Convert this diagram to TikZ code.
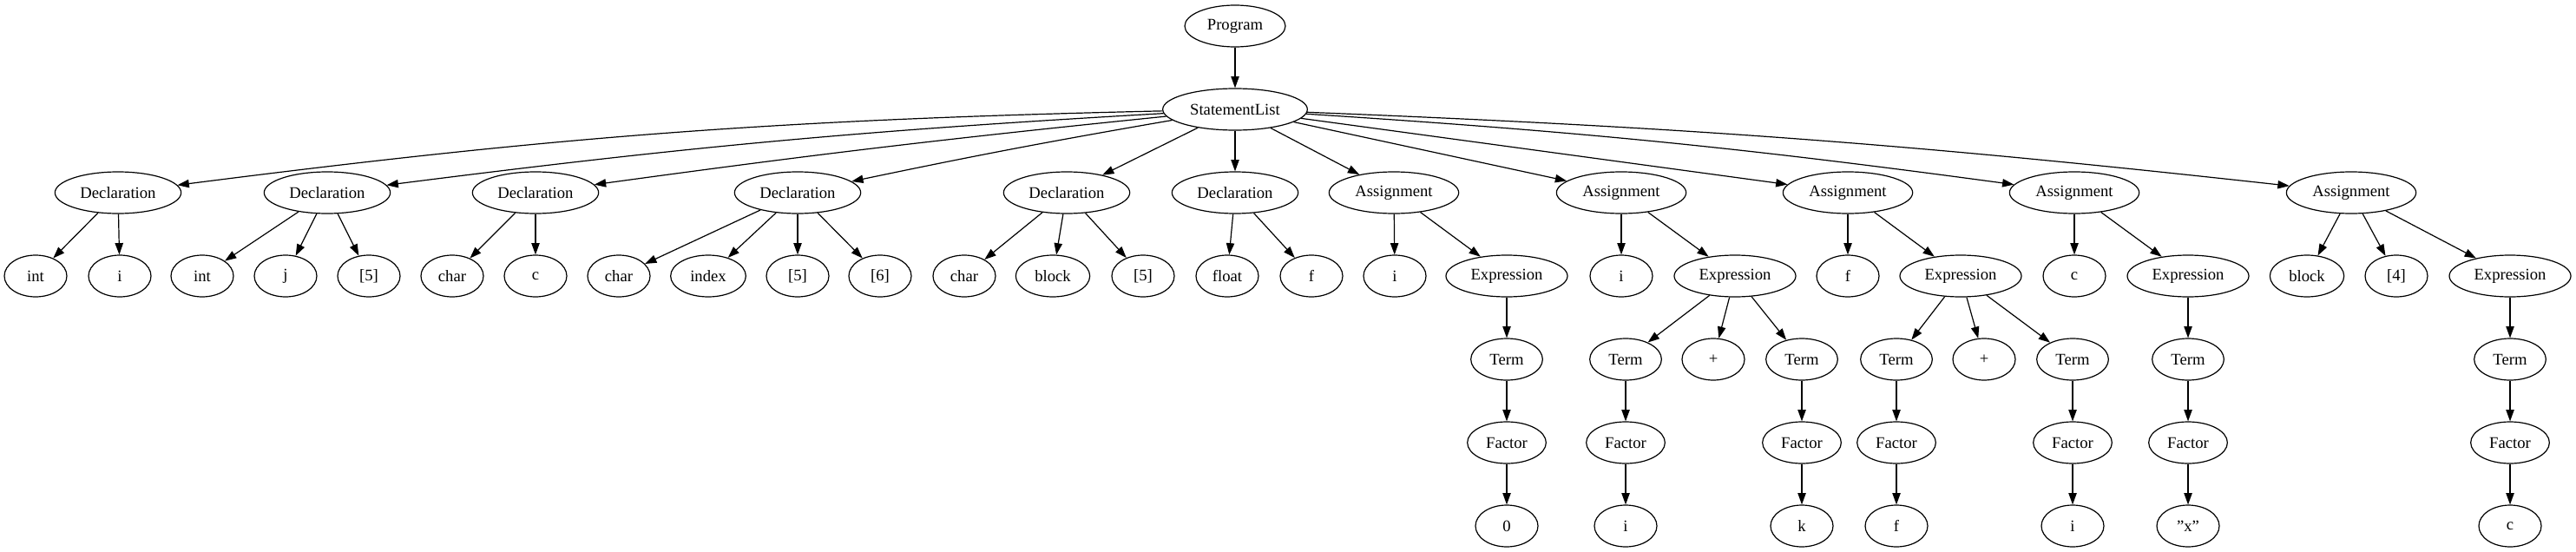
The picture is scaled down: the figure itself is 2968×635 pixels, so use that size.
\documentclass[tikz,border=0pt]{standalone}
\usepackage{fontspec}
\setmainfont{Liberation Serif}
\usetikzlibrary{shapes.geometric,arrows.meta}

\begin{document}
\begin{tikzpicture}[x=0.75pt,y=-0.75pt,node distance=72pt,
  >={Triangle[length=10pt,width=7pt]},line width=0.9pt,
  sym/.style={ellipse,draw,inner sep=0pt,minimum width=54pt,minimum height=36pt,
    font=\fontsize{14}{16}\selectfont},
  decl/.style={sym,minimum width=109pt},
  asgn/.style={sym,minimum width=112pt},
  expr/.style={sym,minimum width=105pt},
  term/.style={sym,minimum width=62pt},
  fact/.style={sym,minimum width=68pt}]
\useasboundingbox (0,0) rectangle (2968,635);

\node[sym,minimum width=87pt]	(prog)	at (1423,30)		{Program};
\node[sym,minimum width=125pt]	(stl)	[below of=prog]		{StatementList};

% statements
\node[decl]	(d_1)	at (136,222)	{Declaration};
\node[decl]	(d_2)	at (377,222)	{Declaration};
\node[decl]	(d_3)	at (617,222)	{Declaration};
\node[decl]	(d_4)	at (919,222)	{Declaration};
\node[decl]	(d_5)	at (1229,222)	{Declaration};
\node[decl]	(d_6)	at (1423,222)	{Declaration};
\node[asgn]	(a_1)	at (1606,222)	{Assignment};
\node[asgn]	(a_2)	at (1868,222)	{Assignment};
\node[asgn]	(a_3)	at (2129,222)	{Assignment};
\node[asgn]	(a_4)	at (2390,222)	{Assignment};
\node[asgn]	(a_5)	at (2709,222)	{Assignment};

% declaration parts
\node[sym]	(ty_1)	at (41,318)	{int};
\node[sym]	(id_1)	at (138,318)	{i};
\node[sym]	(ty_2)	at (233,318)	{int};
\node[sym]	(id_2)	at (329,318)	{j};
\node[sym]	(sz_2)	at (425,318)	{[5]};
\node[sym]	(ty_3)	at (521,318)	{char};
\node[sym]	(id_3)	at (617,318)	{c};
\node[sym]	(ty_4)	at (713,318)	{char};
\node[sym,minimum width=65pt]	(id_4)	at (816,318)	{index};
\node[sym]	(sz_4)	at (919,318)	{[5]};
\node[sym]	(sz_4b)	at (1014,318)	{[6]};
\node[sym]	(ty_5)	at (1111,318)	{char};
\node[sym,minimum width=64pt]	(id_5)	at (1213,318)	{block};
\node[sym]	(sz_5)	at (1317,318)	{[5]};
\node[sym]	(ty_6)	at (1414,318)	{float};
\node[sym]	(id_6)	at (1511,318)	{f};

% assignment parts
\node[sym]	(lhs_1)	at (1607,318)	{i};
\node[expr]	(e_1)	at (1736,318)	{Expression};
\node[sym]	(lhs_2)	at (1868,318)	{i};
\node[expr]	(e_2)	at (1999,318)	{Expression};
\node[sym]	(lhs_3)	at (2129,318)	{f};
\node[expr]	(e_3)	at (2259,318)	{Expression};
\node[sym]	(lhs_4)	at (2390,318)	{c};
\node[expr]	(e_4)	at (2521,318)	{Expression};
\node[sym,minimum width=64pt]	(lhs_5)	at (2658,318)	{block};
\node[sym]	(ix_5)	at (2761,318)	{[4]};
\node[expr]	(e_5)	at (2892,318)	{Expression};

% terms
\node[term]	(t_1)	[below of=e_1]		{Term};
\node[term]	(t_2)	at (1873,414)		{Term};
\node[sym]	(op_2)	at (1974,414)		{+};
\node[term]	(t_3)	at (2076,414)		{Term};
\node[term]	(t_4)	at (2185,414)		{Term};
\node[sym]	(op_3)	at (2286,414)		{+};
\node[term]	(t_5)	at (2388,414)		{Term};
\node[term]	(t_6)	[below of=e_4]		{Term};
\node[term]	(t_7)	[below of=e_5]		{Term};

% factors and values
\node[fact]	(f_1)	[below of=t_1]	{Factor};
\node[fact]	(f_2)	[below of=t_2]	{Factor};
\node[fact]	(f_3)	[below of=t_3]	{Factor};
\node[fact]	(f_4)	[below of=t_4]	{Factor};
\node[fact]	(f_5)	[below of=t_5]	{Factor};
\node[fact]	(f_6)	[below of=t_6]	{Factor};
\node[fact]	(f_7)	[below of=t_7]	{Factor};
\node[sym]	(v_1)	[below of=f_1]	{0};
\node[sym]	(v_2)	[below of=f_2]	{i};
\node[sym]	(v_3)	[below of=f_3]	{k};
\node[sym]	(v_4)	[below of=f_4]	{f};
\node[sym]	(v_5)	[below of=f_5]	{i};
\node[sym]	(v_6)	[below of=f_6]	{"x"};
\node[sym]	(v_7)	[below of=f_7]	{c};

\path[->]	(prog)	edge			(stl)
		(stl)	edge [bend right=3]	(d_1)
			edge [bend right=2]	(d_2)
			edge [bend right=1]	(d_3)
			edge [bend right=1]	(d_4)
			edge			(d_5)
			edge			(d_6)
			edge			(a_1)
			edge			(a_2)
			edge			(a_3)
			edge [bend left=2]	(a_4)
			edge [bend left=2]	(a_5)
		(d_1)	edge	(ty_1)	edge	(id_1)
		(d_2)	edge	(ty_2)	edge	(id_2)	edge	(sz_2)
		(d_3)	edge	(ty_3)	edge	(id_3)
		(d_4)	edge	(ty_4)	edge	(id_4)	edge	(sz_4)	edge	(sz_4b)
		(d_5)	edge	(ty_5)	edge	(id_5)	edge	(sz_5)
		(d_6)	edge	(ty_6)	edge	(id_6)
		(a_1)	edge	(lhs_1)	edge	(e_1)
		(a_2)	edge	(lhs_2)	edge	(e_2)
		(a_3)	edge	(lhs_3)	edge	(e_3)
		(a_4)	edge	(lhs_4)	edge	(e_4)
		(a_5)	edge	(lhs_5)	edge	(ix_5)	edge	(e_5)
		(e_1)	edge	(t_1)
		(e_2)	edge	(t_2)	edge	(op_2)	edge	(t_3)
		(e_3)	edge	(t_4)	edge	(op_3)	edge	(t_5)
		(e_4)	edge	(t_6)
		(e_5)	edge	(t_7);
\foreach \k in {1,...,7}
  \path[->]	(t_\k)	edge	(f_\k)
		(f_\k)	edge	(v_\k);
\end{tikzpicture}
\end{document}
